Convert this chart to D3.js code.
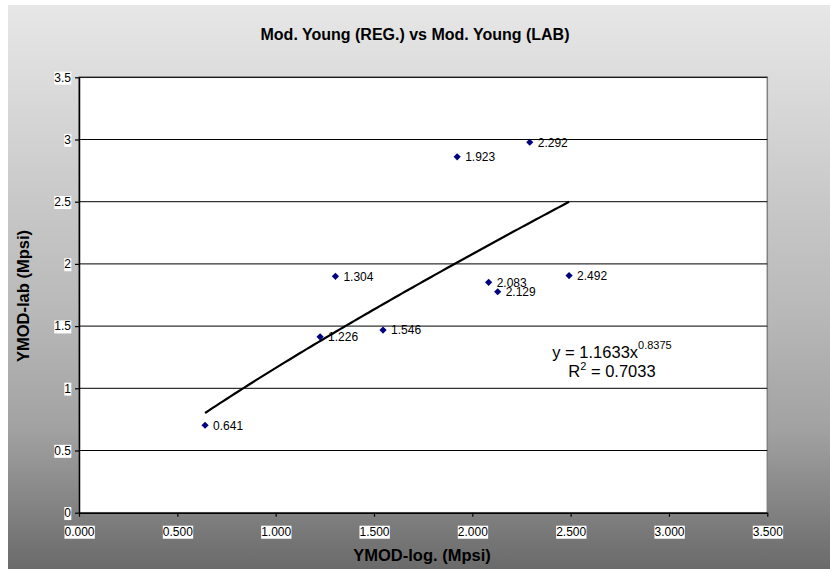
<!DOCTYPE html>
<html>
<head>
<meta charset="utf-8">
<script src="https://cdn.jsdelivr.net/npm/d3@7"></script>
<style>
  html, body { margin: 0; padding: 0; background: #ffffff; }
  svg { display: block; }
  text { font-family: "Liberation Sans", Arial, sans-serif; }
</style>
</head>
<body>
<svg id="chart" width="830" height="569"></svg>
<script>
// Measured modulus values (Mpsi)
const ymodLog = [0.641, 1.226, 1.304, 1.546, 1.923, 2.083, 2.129, 2.292, 2.492];
const ymodLab = [0.703, 1.414, 1.900, 1.468, 2.861, 1.852, 1.776, 2.978, 1.906];
const pointLabels = ["0.641", "1.226", "1.304", "1.546", "1.923", "2.083", "2.129", "2.292", "2.492"];

// Power trend fit y = a * x^b
const fitA = 1.1633;
const fitB = 0.8375;
const fitR2 = "0.7033";

const xTicks = [0, 0.5, 1, 1.5, 2, 2.5, 3, 3.5];
const yTicks = [0, 0.5, 1, 1.5, 2, 2.5, 3, 3.5];

const titleText = "Mod. Young (REG.) vs Mod. Young (LAB)";
const xTitle = "YMOD-log. (Mpsi)";
const yTitle = "YMOD-lab (Mpsi)";

const svg = d3.select("#chart");
const W = 830, H = 569;
const plot = { left: 79, top: 77.3, right: 767.3, bottom: 512.7 };

// Chart area background: vertical grey gradient
const defs = svg.append("defs");
const grad = defs.append("linearGradient")
  .attr("id", "bg").attr("x1", 0).attr("y1", 0).attr("x2", 0).attr("y2", 1);
[[0, "#e7e7e7"], [0.15, "#dadada"], [0.35, "#c8c8c8"], [0.55, "#b8b8b8"],
 [0.75, "#a2a2a2"], [0.85, "#8c8c8c"], [1, "#6a6a6a"]].forEach(([o, c]) =>
  grad.append("stop").attr("offset", o).attr("stop-color", c));

svg.append("rect").attr("x", 8).attr("y", 5).attr("width", W - 8).attr("height", H - 5)
  .attr("fill", "url(#bg)");

const x = d3.scaleLinear().domain([0, 3.5]).range([plot.left, plot.right]);
const y = d3.scaleLinear().domain([0, 3.5]).range([plot.bottom, plot.top]);

// Plot area
svg.append("rect")
  .attr("x", plot.left).attr("y", plot.top)
  .attr("width", plot.right - plot.left).attr("height", plot.bottom - plot.top)
  .attr("fill", "#ffffff").attr("stroke", "#808080").attr("stroke-width", 1.5);

// Horizontal gridlines
svg.append("g").selectAll("line").data(yTicks.filter(d => d > 0)).join("line")
  .attr("x1", plot.left).attr("x2", plot.right)
  .attr("y1", d => y(d)).attr("y2", d => y(d))
  .attr("stroke", "#000").attr("stroke-width", 1);

// Axes
const xAxis = svg.append("g").attr("transform", `translate(0,${plot.bottom})`)
  .call(d3.axisBottom(x).tickValues(xTicks).tickFormat(d3.format(".3f"))
    .tickSize(4).tickSizeOuter(0).tickPadding(10.5));
const yAxis = svg.append("g").attr("transform", `translate(${plot.left},0)`)
  .call(d3.axisLeft(y).tickValues(yTicks).tickFormat(d => d3.format("")(d))
    .tickSize(4).tickSizeOuter(0).tickPadding(4));

[xAxis, yAxis].forEach(g => {
  g.select(".domain").attr("stroke", "#000").attr("stroke-width", 1.5);
  g.selectAll(".tick line").attr("stroke", "#000").attr("stroke-width", 1.2);
  g.selectAll(".tick text")
    .attr("fill", "#000").attr("font-size", 12)
    .attr("font-family", "'Liberation Sans', Arial, sans-serif");
  // white label boxes behind tick text
  g.selectAll(".tick").each(function () {
    const t = d3.select(this).select("text");
    const b = t.node().getBBox();
    d3.select(this).insert("rect", "text")
      .attr("x", b.x).attr("y", b.y + 1).attr("width", b.width).attr("height", b.height - 1)
      .attr("fill", "#ffffff");
  });
});

// Trend line across the data range
const xMin = d3.min(ymodLog), xMax = d3.max(ymodLog);
const trend = d3.range(0, 101).map(i => {
  const xv = xMin + (xMax - xMin) * i / 100;
  return [xv, fitA * Math.pow(xv, fitB)];
});
svg.append("path")
  .datum(trend)
  .attr("d", d3.line().x(d => x(d[0])).y(d => y(d[1])))
  .attr("fill", "none").attr("stroke", "#000").attr("stroke-width", 2.2);

// Points
const pts = ymodLog.map((v, i) => ({ x: v, y: ymodLab[i], label: pointLabels[i] }));
svg.append("g").selectAll("path").data(pts).join("path")
  .attr("transform", d => `translate(${x(d.x)},${y(d.y)})`)
  .attr("d", "M0,-3.6L3.6,0L0,3.6L-3.6,0Z")
  .attr("fill", "#000080");

svg.append("g").selectAll("text").data(pts).join("text")
  .attr("x", d => x(d.x) + 8).attr("y", d => y(d.y))
  .attr("dy", "0.36em")
  .attr("font-size", 12).attr("fill", "#000")
  .text(d => d.label);

// Trend equation
const eq = svg.append("text").attr("x", 612).attr("y", 357.5)
  .attr("text-anchor", "middle").attr("font-size", 16.5).attr("fill", "#000");
eq.append("tspan").text(`y = ${fitA}x`);
eq.append("tspan").attr("dy", -9).attr("font-size", 11).text(fitB);

const r2 = svg.append("text").attr("x", 612).attr("y", 376.5)
  .attr("text-anchor", "middle").attr("font-size", 16.5).attr("fill", "#000");
r2.append("tspan").text("R");
r2.append("tspan").attr("dy", -7).attr("font-size", 11).text("2");
r2.append("tspan").attr("dy", 7).text(` = ${fitR2}`);

// Titles
svg.append("text").attr("x", 415).attr("y", 40)
  .attr("text-anchor", "middle").attr("font-size", 16).attr("font-weight", "bold")
  .attr("fill", "#000").text(titleText);

svg.append("text").attr("x", 422).attr("y", 561)
  .attr("text-anchor", "middle").attr("font-size", 16.5).attr("font-weight", "bold")
  .attr("fill", "#000").text(xTitle);

svg.append("text")
  .attr("transform", "translate(29,296) rotate(-90)")
  .attr("text-anchor", "middle").attr("font-size", 16.5).attr("font-weight", "bold")
  .attr("fill", "#000").text(yTitle);
</script>
</body>
</html>
